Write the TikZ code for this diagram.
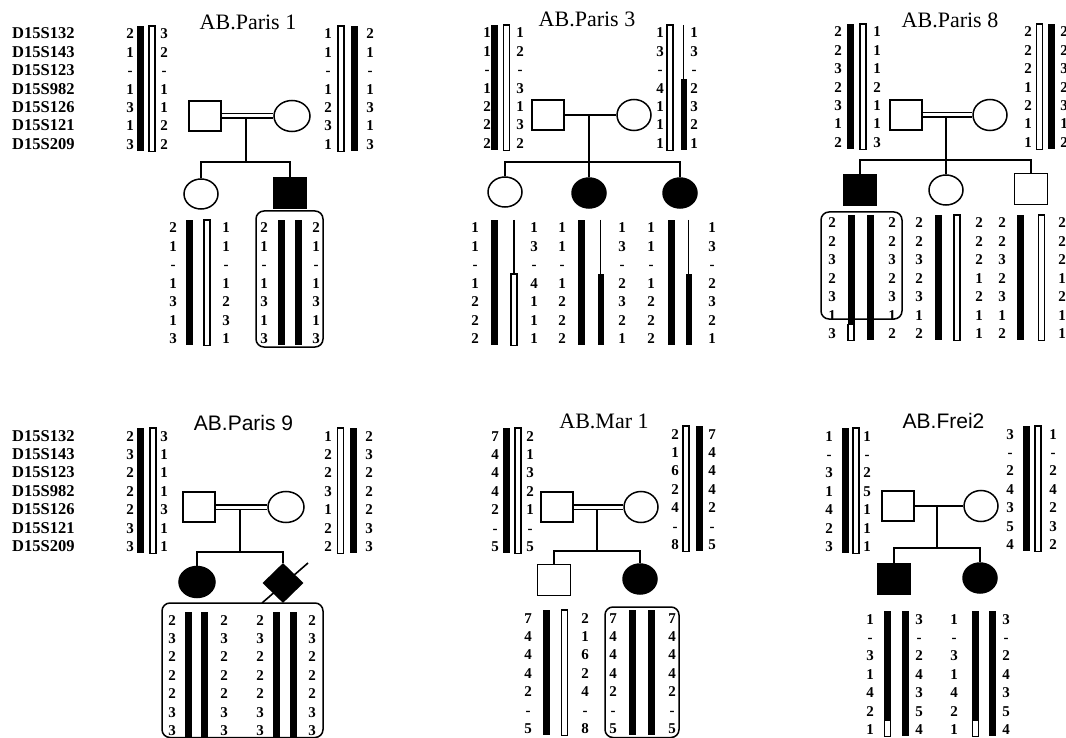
\documentclass[tikz,border=0pt]{standalone}
\usepackage{fontspec}
\setmainfont{Liberation Serif}
\newfontfamily\sansf{Liberation Sans}
\usetikzlibrary{shapes.geometric,calc}
\tikzset{
  num/.style={font=\bfseries\fontsize{15}{15}\selectfont, inner sep=0pt, text height=10pt, text depth=0pt},
  mk/.style={font=\bfseries\fontsize{16.5}{16.5}\selectfont, inner sep=0pt, anchor=west, text height=10pt, text depth=0pt},
  ttl/.style={font=\fontsize{22}{22}\selectfont, inner sep=0pt, anchor=base},
  ttls/.style={font=\sansf\fontsize{21}{21}\selectfont, inner sep=0pt, anchor=base},
  sq/.style={draw, line width=1.5pt, minimum width=32pt, minimum height=30pt, inner sep=0pt},
  ci/.style={ellipse, draw, line width=1.5pt, minimum width=36pt, minimum height=31pt, inner sep=0pt},
  csq/.style={sq, minimum width=33pt, minimum height=31pt},
  cci/.style={ci, minimum width=34pt, minimum height=30pt},
  aff/.style={fill=black},
  dia/.style={diamond, fill=black, minimum width=41pt, minimum height=40pt, inner sep=0pt},
  wbar/.style={draw, fill=white, line width=1.1pt},
  thinl/.style={line width=1.1pt},
  mar/.style={line width=1.5pt},
  cons/.style={double, double distance=3pt, line width=1.3pt},
  pbox/.style={draw, line width=1.5pt, rounded corners=8pt},
}
% allele column: name prefix, x, first row y, list
\newcommand\numcol[4]{\foreach \v [count=\i] in {#4} {\node[num] (#1\i) at ({#2},{#3+(\i-1)*18.4}) {\v};}}
\newcommand\markers[2]{\foreach \t [count=\i] in {D15S132,D15S143,D15S123,D15S982,D15S126,D15S121,D15S209} {\node[mk] (#1\i) at (12,{#2+(\i-1)*18.4}) {\t};}}
% bars: x centre, first row y
\newcommand\barB[2]{\fill ({#1-3.5},{#2-8}) rectangle ({#1+3.5},{#2+117.4});}
\newcommand\barW[2]{\draw[wbar] ({#1-3},{#2-8}) rectangle ({#1+3},{#2+117.4});}
\newcommand\barPB[2]{\draw[thinl] ({#1},{#2-8}) -- ({#1},{#2+46}); \fill ({#1-3},{#2+46}) rectangle ({#1+3},{#2+117.4});}
\newcommand\barPW[2]{\draw[thinl] ({#1},{#2-8}) -- ({#1},{#2+46}); \draw[wbar] ({#1-3},{#2+46}) rectangle ({#1+3},{#2+117.4});}
\newcommand\barBW[2]{\fill ({#1-3.5},{#2-8}) rectangle ({#1+3.5},{#2+101.2}); \draw[wbar] ({#1-3},{#2+101.2}) rectangle ({#1+3},{#2+117.4});}
\begin{document}
\begin{tikzpicture}[x=1pt,y=-1pt]
\useasboundingbox (0,0) rectangle (1066,738);

%% ---------------- AB.Paris 1 ----------------
\markers{mkA}{34}
\node[ttl] (t1) at (248,30) {AB.Paris 1};
\numcol{aa}{130}{34}{2,1,-,1,3,1,3} \barB{140.5}{34} \barW{152}{34} \numcol{ab}{164}{34}{3,2,-,1,1,2,2}
\numcol{ac}{328}{34}{1,1,-,1,2,3,1} \barW{341}{34} \barB{354}{34} \numcol{ad}{370}{34}{2,1,-,1,3,1,3}
\node[sq] (p1f) at (205,116) {};
\node[ci] (p1m) at (292,116) {};
\coordinate (p1d) at (246,116);
\coordinate (p1s) at (246,162);
\draw[mar] (p1d) -- (p1s);
\draw[cons] (p1f) -- (p1m);
\node[cci] (p1c1) at (201,194) {};
\node[csq,aff] (p1c2) at (290,193) {};
\draw[mar] (p1c1.north) |- (p1s) -| (p1c2.north);
\numcol{ae}{173}{228}{2,1,-,1,3,1,3} \barB{189.5}{228} \barW{207}{228} \numcol{af}{226}{228}{1,1,-,1,2,3,1}
\numcol{ag}{264}{228}{2,1,-,1,3,1,3} \barB{281.5}{228} \barB{298.5}{228} \numcol{ah}{316}{228}{2,1,-,1,3,1,3}
\draw[pbox] (256,211) rectangle (323,347);

%% ---------------- AB.Paris 3 ----------------
\node[ttl] (t2) at (587,27) {AB.Paris 3};
\numcol{ba}{487}{33}{1,1,-,1,2,2,2} \barB{494.5}{33} \barW{506.5}{33} \numcol{bb}{520}{33}{1,2,-,3,1,3,2}
\numcol{bc}{660}{33}{1,3,-,4,1,1,1} \barW{670}{33} \barPB{683.5}{33} \numcol{bd}{694}{33}{1,3,-,2,3,2,1}
\node[sq] (p2f) at (548,115) {};
\node[ci, minimum width=34pt] (p2m) at (634,115) {};
\coordinate (p2d) at (589,115);
\coordinate (p2s) at (589,162);
\draw[mar] (p2d) -- (p2s);
\draw[mar] (p2f) -- (p2m);
\node[cci] (p2c1) at (505,192) {};
\node[cci,aff] (p2c2) at (589,193) {};
\node[cci,aff] (p2c3) at (680,193) {};
\draw[mar] (p2c1.north) |- (p2s) -| (p2c3.north);
\draw[mar] (p2c2.north) -- (p2s);
\numcol{be}{475}{228}{1,1,-,1,2,2,2} \barB{494}{228} \barPW{514}{228} \numcol{bf}{534}{228}{1,3,-,4,1,1,1}
\numcol{bg}{562}{228}{1,1,-,1,2,2,2} \barB{581.5}{228} \barPB{600.5}{228} \numcol{bh}{622}{228}{1,3,-,2,3,2,1}
\numcol{bi}{651}{228}{1,1,-,1,2,2,2} \barB{671}{228} \barPB{688.5}{228} \numcol{bj}{712}{228}{1,3,-,2,3,2,1}

%% ---------------- AB.Paris 8 ----------------
\node[ttl] (t3) at (950,28) {AB.Paris 8};
\numcol{ca}{838}{32}{2,2,3,2,3,1,2} \barB{850}{32} \barW{863}{32} \numcol{cb}{877}{32}{1,1,1,2,1,1,3}
\numcol{cc}{1028}{32}{2,2,2,1,2,1,1} \barW{1039.5}{32} \barB{1051}{32} \numcol{cd}{1064}{32}{2,2,3,2,3,1,2}
\node[sq] (p3f) at (906,115) {};
\node[ci, minimum width=34pt] (p3m) at (990,115) {};
\coordinate (p3d) at (946,115);
\coordinate (p3s) at (946,160);
\draw[mar] (p3d) -- (p3s);
\draw[cons] (p3f) -- (p3m);
\node[csq,aff] (p3c1) at (860,190) {};
\node[cci] (p3c2) at (946,190) {};
\node[csq] (p3c3) at (1031,189) {};
\draw[mar] (p3c1.north) |- (p3s) -| (p3c3.north);
\draw[mar] (p3c2.north) -- (p3s);
\numcol{ce}{832}{223}{2,2,3,2,3,1,3} \barBW{851}{223} \barB{870.5}{223} \numcol{cf}{892}{223}{2,2,3,2,3,1,2}
\draw[pbox] (821,212) rectangle (902,319);
\numcol{cg}{919}{223}{2,2,3,2,3,1,2} \barB{938.5}{223} \barW{957}{223} \numcol{ch}{979}{223}{2,2,2,1,2,1,1}
\numcol{ci}{1002}{223}{2,2,3,2,3,1,2} \barB{1020.5}{223} \barW{1041.5}{223} \numcol{cj}{1062}{223}{2,2,2,1,2,1,1}

%% ---------------- AB.Paris 9 ----------------
\markers{mkB}{436}
\node[ttls] (t4) at (243.5,430) {AB.Paris 9};
\numcol{da}{130}{436}{2,3,2,2,2,3,3} \barB{140.5}{436} \barW{153}{436} \numcol{db}{164}{436}{3,1,1,1,3,1,1}
\numcol{dc}{328}{436}{1,2,2,3,1,2,2} \barW{340.5}{436} \barB{353}{436} \numcol{dd}{369}{436}{2,3,2,2,2,3,3}
\node[sq] (p4f) at (199,507) {};
\node[ci] (p4m) at (286,507) {};
\coordinate (p4d) at (240,507);
\coordinate (p4s) at (240,552);
\draw[mar] (p4d) -- (p4s);
\draw[cons] (p4f) -- (p4m);
\node[cci,aff, minimum width=36pt, minimum height=31pt] (p4c1) at (197,582) {};
\node[dia] (p4c2) at (283,583) {};
\draw[mar] (p4c1.north) |- (p4s) -| (p4c2.north);
\draw[line width=1.6pt] ($(p4c2)+(-21,20)$) -- ($(p4c2)+(25,-20)$);
\numcol{de}{172}{620}{2,3,2,2,2,3,3} \barB{188}{620} \barB{204.5}{620} \numcol{df}{224}{620}{2,3,2,2,2,3,3}
\numcol{dg}{260}{620}{2,3,2,2,2,3,3} \barB{276.5}{620} \barB{293.5}{620} \numcol{dh}{312}{620}{2,3,2,2,2,3,3}
\draw[pbox] (162,603) rectangle (323,737.5);

%% ---------------- AB.Mar 1 ----------------
\node[ttl] (t5) at (604,428) {AB.Mar 1};
\numcol{ea}{495}{436}{7,4,4,4,2,-,5} \barB{506}{436} \barW{518}{436} \numcol{eb}{530}{436}{2,1,3,2,1,-,5}
\numcol{ec}{675}{434}{2,1,6,2,4,-,8} \barW{686}{434} \barB{699}{434} \numcol{ed}{712}{434}{7,4,4,4,2,-,5}
\node[sq] (p5f) at (557,507) {};
\node[ci, minimum width=34pt] (p5m) at (641,507) {};
\coordinate (p5d) at (597,507);
\coordinate (p5s) at (597,551);
\draw[mar] (p5d) -- (p5s);
\draw[cons] (p5f) -- (p5m);
\node[csq] (p5c1) at (554,580) {};
\node[cci,aff] (p5c2) at (640,579) {};
\draw[mar] (p5c1.north) |- (p5s) -| (p5c2.north);
\numcol{ee}{528}{618}{7,4,4,4,2,-,5} \barB{546.5}{618} \barW{564.5}{618} \numcol{ef}{585}{618}{2,1,6,2,4,-,8}
\numcol{eg}{613}{618}{7,4,4,4,2,-,5} \barB{632.5}{618} \barB{651.5}{618} \numcol{eh}{672}{618}{7,4,4,4,2,-,5}
\draw[pbox] (605,607) rectangle (679,737.5);

%% ---------------- AB.Frei2 ----------------
\node[ttls] (t6) at (943.5,428) {AB.Frei2};
\numcol{fa}{829}{436}{1,-,3,1,4,2,3} \barB{845}{436} \barW{856}{436} \numcol{fb}{867}{436}{1,-,2,5,1,1,1}
\numcol{fc}{1010}{434}{3,-,2,4,3,5,4} \barB{1026}{434} \barW{1038}{434} \numcol{fd}{1053}{434}{1,-,2,4,2,3,2}
\node[sq] (p6f) at (898,506) {};
\node[ci, minimum width=34pt] (p6m) at (981,506) {};
\coordinate (p6d) at (937,506);
\coordinate (p6s) at (937,548);
\draw[mar] (p6d) -- (p6s);
\draw[mar] (p6f) -- (p6m);
\node[csq,aff] (p6c1) at (894,579) {};
\node[cci,aff] (p6c2) at (980,578) {};
\draw[mar] (p6c1.north) |- (p6s) -| (p6c2.north);
\numcol{fe}{870}{619}{1,-,3,1,4,2,1} \barBW{887.5}{619} \barB{905}{619} \numcol{ff}{919}{619}{3,-,2,4,3,5,4}
\numcol{fg}{954}{619}{1,-,3,1,4,2,1} \barBW{975.5}{619} \barB{992}{619} \numcol{fh}{1006}{619}{3,-,2,4,3,5,4}
\end{tikzpicture}
\end{document}
